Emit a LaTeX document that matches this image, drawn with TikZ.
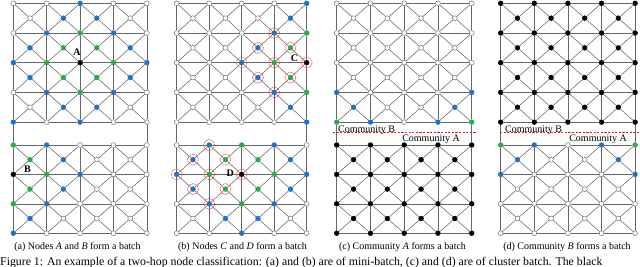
\documentclass[tikz,border=0pt]{standalone}
\usepackage{fontspec}
\setmainfont{Liberation Serif}
\usetikzlibrary{positioning}
\definecolor{hopblue}{RGB}{30,112,200}
\definecolor{hopgreen}{RGB}{40,172,72}
\definecolor{splitred}{RGB}{240,20,20}
\begin{document}
\begin{tikzpicture}
  [x=1pt,y=-1pt,
   n-w/.style={circle,inner sep=0pt,minimum size=4.8pt,line width=0.5pt,draw=black!55,fill=white},
   n-b/.style={n-w,draw=hopblue,fill=hopblue},
   n-g/.style={n-w,draw=hopgreen,fill=hopgreen},
   n-k/.style={n-w,draw=black,fill=black},
   link/.style={draw=black!60,line width=0.55pt},
   ring/.style={draw=red!75,line width=0.55pt,dash pattern=on 1.4pt off 0.6pt},
   split/.style={splitred,line width=1pt,dash pattern=on 2.2pt off 1.4pt},
   hub/.style={font=\fontsize{10}{12}\selectfont\bfseries,inner sep=0pt},
   comm/.style={font=\fontsize{10}{12}\selectfont,inner sep=0pt},
   subcap/.style={font=\fontsize{10}{12}\selectfont,inner sep=0pt}]
  \useasboundingbox (0,0) rectangle (640,267);

  % panel name / left x / column step / upper corners / upper centres / lower corners / lower centres
  \foreach \p/\ox/\dx/\hic/\him/\loc/\lom in {%
    a/13.3/33.4/{{w,w,b,w,w},{w,b,g,b,w},{b,g,k,g,b},{w,b,g,b,w},{b,w,b,w,w}}/{{w,b,b,w},{b,g,g,b},{b,g,g,b},{w,b,b,w}}/{{g,b,w,w,w},{k,g,b,w,w},{g,b,w,w,w},{b,w,w,w,w}}/{{g,b,w,w},{g,b,w,w},{b,w,w,w}},%
    b/176.7/32.5/{{w,w,w,w,b},{w,w,w,b,g},{w,w,b,g,k},{w,w,w,b,g},{w,w,w,w,b}}/{{w,w,w,b},{w,w,b,g},{w,w,b,g},{w,w,w,b}}/{{w,b,g,b,w},{b,g,k,g,b},{w,b,g,b,w},{w,w,b,w,w}}/{{b,g,g,b},{b,g,g,b},{w,b,b,w}},%
    c/336.7/33.75/{{w,w,w,w,w},{w,w,w,w,w},{w,w,w,w,w},{b,w,w,w,b},{g,b,w,b,g}}/{{w,w,w,w},{w,w,w,w},{w,w,w,w},{b,w,w,b}}/{{k,k,k,k,k},{k,k,k,k,k},{k,k,k,k,k},{k,k,k,k,k}}/{{k,k,k,k},{k,k,k,k},{k,k,k,k}},%
    d/500.7/33.6/{{k,k,k,k,k},{k,k,k,k,k},{k,k,k,k,k},{k,k,k,k,k},{k,k,k,k,k}}/{{k,k,k,k},{k,k,k,k},{k,k,k,k},{k,k,k,k}}/{{g,b,w,b,g},{b,w,w,w,b},{w,w,w,w,w},{w,w,w,w,w}}/{{b,w,w,b},{w,w,w,w},{w,w,w,w}}%
  }{
    % upper block: 5x5 corners, 4x4 centres
    \foreach \rw [count=\ri from 0] in \hic
      \foreach \kd [count=\ci from 0] in \rw
        \node[n-\kd] (\p-hi-\ri-\ci) at (\ox+\dx*\ci, 3.3+29.7*\ri) {};
    \foreach \ri in {0,...,4}
      \foreach \ci in {0,...,3} {
        \pgfmathtruncatemacro\cj{\ci+1}
        \draw[link] (\p-hi-\ri-\ci) -- (\p-hi-\ri-\cj);
        \draw[link] (\p-hi-\ci-\ri) -- (\p-hi-\cj-\ri);
      }
    \foreach \rw [count=\ri from 0] in \him
      \foreach \kd [count=\ci from 0] in \rw {
        \node[n-\kd] (\p-him-\ri-\ci) at (\ox+\dx*\ci+\dx/2, 18.15+29.7*\ri) {};
        \pgfmathtruncatemacro\rj{\ri+1}
        \pgfmathtruncatemacro\cj{\ci+1}
        \foreach \u/\v in {\ri/\ci,\ri/\cj,\rj/\ci,\rj/\cj}
          \draw[link] (\p-him-\ri-\ci) -- (\p-hi-\u-\v);
      }
    % lower block: 4x5 corners, 3x4 centres
    \foreach \rw [count=\ri from 0] in \loc
      \foreach \kd [count=\ci from 0] in \rw
        \node[n-\kd] (\p-lo-\ri-\ci) at (\ox+\dx*\ci, 145+29.4*\ri) {};
    \foreach \ri in {0,...,3}
      \foreach \ci in {0,...,3} {
        \pgfmathtruncatemacro\cj{\ci+1}
        \draw[link] (\p-lo-\ri-\ci) -- (\p-lo-\ri-\cj);
      }
    \foreach \ri in {0,...,2}
      \foreach \ci in {0,...,4} {
        \pgfmathtruncatemacro\rj{\ri+1}
        \draw[link] (\p-lo-\ri-\ci) -- (\p-lo-\rj-\ci);
      }
    \foreach \rw [count=\ri from 0] in \lom
      \foreach \kd [count=\ci from 0] in \rw {
        \node[n-\kd] (\p-lom-\ri-\ci) at (\ox+\dx*\ci+\dx/2, 159.7+29.4*\ri) {};
        \pgfmathtruncatemacro\rj{\ri+1}
        \pgfmathtruncatemacro\cj{\ci+1}
        \foreach \u/\v in {\ri/\ci,\ri/\cj,\rj/\ci,\rj/\cj}
          \draw[link] (\p-lom-\ri-\ci) -- (\p-lo-\u-\v);
      }
    % the two border edges across the gap
    \draw[link] (\p-hi-4-0) -- (\p-lo-0-0) (\p-hi-4-4) -- (\p-lo-0-4);
  }

  % one-hop neighbourhoods in panel (b)
  \foreach \n in {b-hi-1-3,b-him-1-2,b-him-1-3,b-hi-2-2,b-hi-2-3,b-hi-2-4,b-him-2-2,b-him-2-3,b-hi-3-3,
                  b-lo-0-1,b-lom-0-0,b-lom-0-1,b-lo-1-0,b-lo-1-1,b-lo-1-2,b-lom-1-0,b-lom-1-1,b-lo-2-1}
    \draw[ring] (\n) circle (5.5pt);

  \node[hub, above=4pt of a-hi-2-2, xshift=-3pt] (lblA) {A};
  \node[hub, right=8pt of a-lo-1-0, yshift=5pt] (lblB) {B};
  \node[hub, left=5.8pt of b-hi-2-4, yshift=4pt] (lblC) {C};
  \node[hub, left=5pt of b-lo-1-2, yshift=1.5pt] (lblD) {D};

  \node[comm, anchor=base west] (cB1) at (338,132.5) {Community B};
  \node[comm, anchor=base east] (cA1) at (460,141.5) {Community A};
  \node[comm, anchor=base west] (cB2) at (505,132.5) {Community B};
  \node[comm, anchor=base east] (cA2) at (627,142) {Community A};

  \node[subcap] (capa) at (77.5,247) {(a) Nodes \textit{A} and \textit{B} form a batch};
  \node[subcap] (capb) at (242.5,247) {(b) Nodes \textit{C} and \textit{D} form a batch};
  \node[subcap] (capc) at (402.5,247) {(c) Community \textit{A} forms a batch};
  \node[subcap] (capd) at (567,247) {(d) Community \textit{B} forms a batch};
  \node[subcap, font=\fontsize{11.8}{13}\selectfont, anchor=base west] (fig) at (0,265.5)
    {Figure 1: An example of a two-hop node classification: (a) and (b) are of mini-batch, (c) and (d) are of cluster batch. The black};

  % community split lines of (c) and (d)
  \draw[split] (333,133) -- (477,133);
  \draw[split] (500,133) -- (640,133);
\end{tikzpicture}
\end{document}
